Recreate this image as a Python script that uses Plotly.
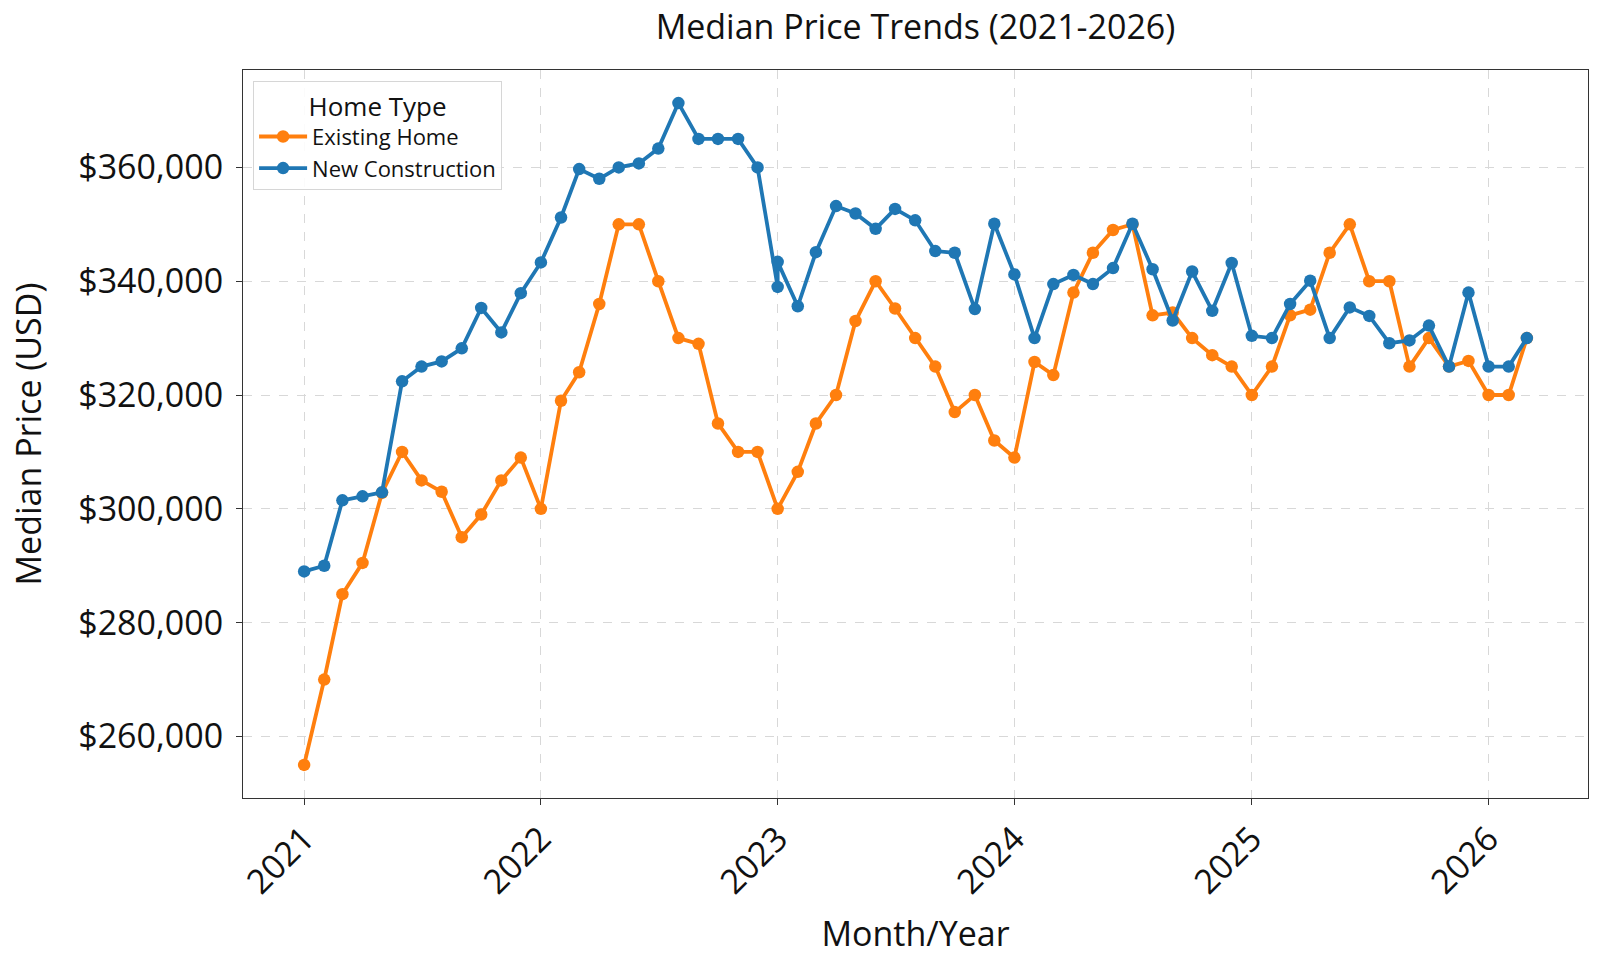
import pandas as pd
import plotly.graph_objects as go

# ---- data ----
existing_dates = [d.strftime("%Y-%m-%d") for d in pd.date_range("2021-01-01", "2026-03-01", freq="MS")]
existing_prices = [
    255000, 270000, 285000, 290500, 302800, 310000, 305000, 303000, 295000, 299000, 305000, 309000,
    300000, 319000, 324000, 336000, 350000, 350000, 340000, 330000, 329000, 315000, 310000, 310000,
    300000, 306500, 315000, 320000, 333000, 340000, 335200, 330000, 325000, 317000, 320000, 312000,
    309000, 325800, 323500, 338000, 345000, 349000, 350000, 334000, 334500, 330000, 327000, 325000,
    320000, 325000, 334000, 335000, 345000, 350000, 340000, 340000, 325000, 330000, 325000, 326000,
    320000, 320000, 330000,
]
# New construction has two records for January 2023
new_dates = existing_dates[:25] + ["2023-01-01"] + existing_dates[25:]
new_prices = [
    289000, 290000, 301500, 302200, 302900, 322400, 325000, 325900, 328200, 335300, 331000, 337900,
    343300, 351200, 359700, 358000, 360000, 360700, 363300, 371300, 365000, 365000, 365000, 360000,
    339000, 343400, 335600, 345100, 353200, 351900, 349200, 352700, 350700, 345300, 345000, 335100, 350100,
    341200, 330000, 339500, 341100, 339500, 342300, 350100, 342100, 333100, 341700, 334800, 343200,
    330400, 330000, 336000, 340100, 330000, 335400, 333900, 329100, 329600, 332200, 325000, 338000,
    325000, 325000, 330000,
]
y_ticks = [260000, 280000, 300000, 320000, 340000, 360000]
x_ticks = ["2021-01-01", "2022-01-01", "2023-01-01", "2024-01-01", "2025-01-01", "2026-01-01"]
x_tick_text = ["2021", "2022", "2023", "2024", "2025", "2026"]

ORANGE = "#ff7f0e"
BLUE = "#1f77b4"
FONT = "Open Sans"

# axis ranges with 5% margins (like matplotlib autoscale)
all_vals = existing_prices + new_prices
ymin, ymax = min(all_vals), max(all_vals)
ypad = (ymax - ymin) * 0.05
t0 = pd.Timestamp(existing_dates[0]); t1 = pd.Timestamp(existing_dates[-1])
tpad = (t1 - t0) * 0.05

fig = go.Figure()
fig.add_trace(go.Scatter(
    x=existing_dates, y=existing_prices, name="Existing Home", mode="lines+markers",
    line=dict(color=ORANGE, width=3.8), marker=dict(color=ORANGE, size=12.5),
))
fig.add_trace(go.Scatter(
    x=new_dates, y=new_prices, name="New Construction", mode="lines+markers",
    line=dict(color=BLUE, width=3.8), marker=dict(color=BLUE, size=12.5),
))

fig.update_layout(
    width=1600, height=960,
    margin=dict(l=243, r=12, t=70, b=162),
    paper_bgcolor="white", plot_bgcolor="white",
    font=dict(family=FONT, color="#111111"),
    title=dict(text="Median Price Trends (2021-2026)", x=0.5, xref="paper", xanchor="center",
               y=0.972, yanchor="middle", font=dict(size=34, color="#111111")),
    showlegend=True,
    legend=dict(
        title=dict(text="Home Type", side="top center", font=dict(size=26)),
        font=dict(size=22), x=0.0075, y=0.985, xanchor="left", yanchor="top",
        bgcolor="rgba(255,255,255,0.9)", bordercolor="#d6d6d6", borderwidth=1,
        tracegroupgap=0, itemwidth=48,
    ),
)
fig.update_xaxes(
    type="date", range=[t0 - tpad, t1 + tpad],
    tickvals=x_ticks, ticktext=x_tick_text, tickangle=-45,
    tickfont=dict(size=34), ticks="outside", ticklen=6, tickcolor="#333",
    showgrid=True, gridcolor="#d8d8d8", griddash="dash", gridwidth=1,
    showline=True, linecolor="#333", linewidth=1.2, mirror=True, zeroline=False,
    title=dict(text="Month/Year", font=dict(size=34), standoff=20),
)
fig.update_yaxes(
    range=[ymin - ypad, ymax + ypad],
    tickvals=y_ticks, tickformat="$,.0f",
    tickfont=dict(size=34), ticks="outside", ticklen=6, tickcolor="#333",
    ticklabelstandoff=6,
    showgrid=True, gridcolor="#d8d8d8", griddash="dash", gridwidth=1,
    showline=True, linecolor="#333", linewidth=1.2, mirror=True, zeroline=False,
    title=dict(text="Median Price (USD)", font=dict(size=34), standoff=26),
)

fig.write_html("out.html")
